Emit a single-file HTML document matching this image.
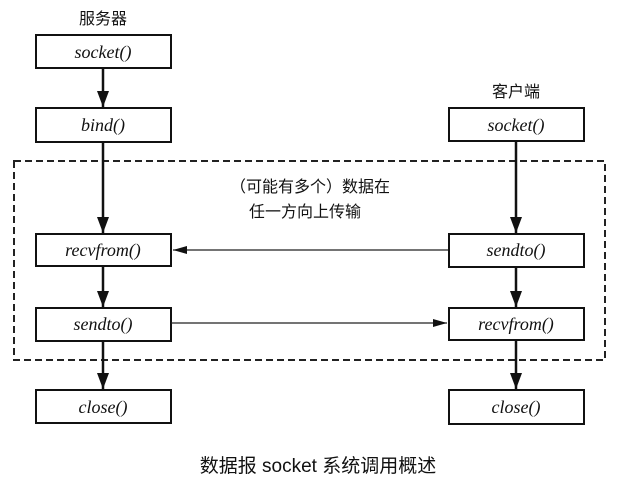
<!DOCTYPE html>
<html><head><meta charset="utf-8"><style>
html,body{margin:0;padding:0;background:#fff;width:638px;height:498px;overflow:hidden}
</style></head><body>
<svg width="638" height="498" xmlns="http://www.w3.org/2000/svg">
<defs><marker id="a" markerWidth="16" markerHeight="12" refX="16" refY="6" orient="auto" markerUnits="userSpaceOnUse"><path d="M0,0 L16,6 L0,12 Z" fill="#111"/></marker>
<marker id="s" markerWidth="14" markerHeight="8" refX="14" refY="4" orient="auto" markerUnits="userSpaceOnUse"><path d="M0,0 L14,4 L0,8 Z" fill="#111"/></marker></defs>
<rect x="14" y="161" width="591" height="199" fill="none" stroke="#222" stroke-width="2" stroke-dasharray="7,4"/>
<g fill="none" stroke="#111" stroke-width="2">
<rect x="36" y="35" width="135" height="33"/>
<rect x="36" y="108" width="135" height="34"/>
<rect x="36" y="234" width="135" height="32"/>
<rect x="36" y="308" width="135" height="33"/>
<rect x="36" y="390" width="135" height="33"/>
<rect x="449" y="108" width="135" height="33"/>
<rect x="449" y="234" width="135" height="33"/>
<rect x="449" y="308" width="135" height="32"/>
<rect x="449" y="390" width="135" height="34"/>
</g>
<g stroke="#111" stroke-width="2.5">
<line x1="103" y1="68" x2="103" y2="107" marker-end="url(#a)"/>
<line x1="103" y1="142" x2="103" y2="233" marker-end="url(#a)"/>
<line x1="103" y1="266" x2="103" y2="307" marker-end="url(#a)"/>
<line x1="103" y1="341" x2="103" y2="389" marker-end="url(#a)"/>
<line x1="516" y1="141" x2="516" y2="233" marker-end="url(#a)"/>
<line x1="516" y1="267" x2="516" y2="307" marker-end="url(#a)"/>
<line x1="516" y1="340" x2="516" y2="389" marker-end="url(#a)"/>
</g>
<g stroke="#222" stroke-width="1.3">
<line x1="448" y1="250" x2="173" y2="250" marker-end="url(#s)"/>
<line x1="171" y1="323" x2="447" y2="323" marker-end="url(#s)"/>
</g>
<g font-family="Liberation Serif, serif" font-style="italic" font-size="18" fill="#111" text-anchor="middle">
<text x="103" y="58">socket()</text>
<text x="103" y="131">bind()</text>
<text x="103" y="256">recvfrom()</text>
<text x="103" y="330">sendto()</text>
<text x="103" y="413">close()</text>
<text x="516" y="131">socket()</text>
<text x="516" y="256">sendto()</text>
<text x="516" y="330">recvfrom()</text>
<text x="516" y="413">close()</text>
</g>
<g font-family="Liberation Sans, Noto Sans CJK SC, sans-serif" fill="#111" text-anchor="middle">
<text x="103" y="24" font-size="16">服务器</text>
<text x="516" y="97" font-size="16">客户端</text>
<text x="310" y="192" font-size="16">（可能有多个）数据在</text>
<text x="305" y="217" font-size="16">任一方向上传输</text>
<text x="318" y="472" font-size="19">数据报 socket 系统调用概述</text>
</g>
</svg>
</body></html>
